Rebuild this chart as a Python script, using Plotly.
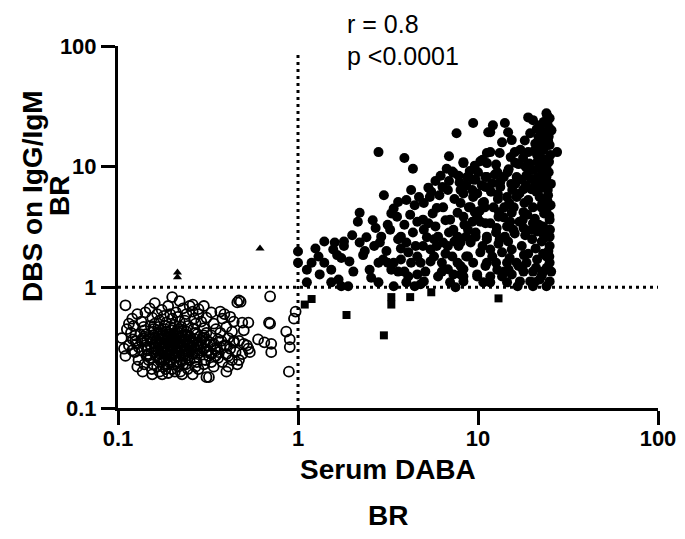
import plotly.graph_objects as go

# Serum DABA BR (x) vs DBS IgG/IgM BR (y)

# positive, both assays (filled circles)
filled_x = [
    2.8, 3.9, 4.35, 7.6, 9.4, 11.4, 11.2, 10.3, 8.3, 6.7,
    7.3, 5.8, 6.35, 6.8, 5.3, 5.4, 5.0, 4.25, 4.0, 4.45,
    3.0, 3.6, 3.4, 3.55, 2.2, 2.15, 2.6, 2.0, 2.4, 2.2,
    1.4, 1.6, 1.8, 1.57, 1.8, 1.3, 1.19, 1.12, 1.4, 1.53,
    1.74, 1.93, 2.03, 1.68, 1.53, 1.74, 1.9, 1.32, 1.12, 1.0,
    1.0, 2.9, 2.85, 3.15, 3.25, 2.8, 2.97, 2.5, 2.55, 2.8,
    3.6, 4.0, 3.73, 4.1, 4.5, 4.6, 4.25, 3.73, 3.4, 3.3,
    3.6, 3.9, 4.1, 4.0, 4.45, 4.8, 5.0, 5.1, 4.8, 4.95,
    5.45, 5.0, 5.3, 4.95, 5.8, 6.0, 6.4, 5.9, 5.7, 6.3,
    6.8, 6.9, 7.3, 7.7, 8.0, 7.2, 7.7, 8.0, 8.3, 8.6,
    9.1, 9.7, 8.8, 9.3, 9.9, 8.3, 7.7, 7.0, 8.9, 9.4,
    9.9, 9.3, 8.3, 10.6, 11.0, 11.2, 9.7, 6.4, 5.9, 7.0,
    7.5, 8.3, 9.9, 10.7, 11.2, 10.6, 11.2, 11.0, 8.0, 6.8,
    6.3, 4.35, 3.73, 3.15, 4.6, 3.4, 5.45, 6.0, 12.1, 11.7,
    14.1, 14.7, 13.6, 15.4, 16.0, 19.0, 20.2, 24.0, 25.0, 22.0,
    19.5, 22.6, 24.0, 27.5, 25.0, 23.0, 19.0, 21.3, 24.0, 22.0,
    24.0, 24.4, 23.0, 20.2, 18.6, 17.5, 16.4, 15.5, 13.3, 13.9,
    12.6, 11.7, 11.2, 10.6, 9.4, 11.0, 8.3, 7.2, 8.0, 9.1,
    10.8, 12.2, 14.5, 16.4, 19.0, 22.0, 20.2, 17.9, 15.4, 13.9,
    13.0, 11.7, 10.3, 24.0, 25.0, 23.0, 20.2, 17.9, 15.7, 14.1,
    12.6, 11.2, 9.7, 8.6, 7.8, 8.8, 10.3, 11.7, 13.6, 15.4,
    17.5, 20.0, 22.6, 25.0, 25.0, 24.0, 21.3, 18.6, 16.4, 14.5,
    12.6, 11.0, 9.4, 8.0, 7.3, 8.3, 9.9, 11.7, 13.6, 15.4,
    17.9, 20.2, 23.0, 25.5, 25.0, 22.0, 19.5, 17.1, 14.5, 11.7,
    25.0, 24.0, 20.2, 16.6, 24.2, 24.8, 24.5, 25.2, 24.0, 24.7,
    25.4, 24.3, 24.9, 25.1, 24.6, 24.1, 23.2, 22.8, 23.4, 22.9,
    23.1, 22.7, 23.3, 22.9, 23.0, 22.6, 21.2, 20.8, 21.4, 20.9,
    21.1, 20.7, 21.3, 20.9, 21.0, 20.6, 18.2, 17.8, 18.4, 17.9,
    18.1, 17.7, 18.3, 18.0, 17.6, 15.2, 14.8, 15.3, 14.9, 15.1,
    14.7, 15.0, 14.8, 13.2, 12.8, 13.3, 12.9, 13.1, 12.7, 13.0,
    12.8, 5.2, 6.6, 7.4, 8.6, 9.0, 10.0, 12.0, 6.1, 7.9,
    10.2, 3.1, 2.3, 1.65, 1.25, 5.6, 6.9, 16.8, 19.8, 22.3,
    16.0, 17.0, 18.8, 19.8, 21.8, 22.5, 24.5, 25.3, 23.8, 24.9,
    19.0, 16.8, 14.0, 12.0, 13.2, 14.5, 15.8, 17.0, 18.5, 19.8,
    21.5, 22.4, 23.6, 24.7, 25.6, 24.3, 21.7, 20.5, 17.2, 16.1,
    14.6, 12.4, 11.8, 10.5, 9.6, 8.7, 7.8, 6.9, 6.2, 5.5,
    4.7, 4.2, 3.3, 2.7, 2.35, 2.65, 3.9, 4.6, 5.7, 6.6,
    7.4, 8.4, 9.6, 10.9, 12.9, 14.0, 16.1, 19.3, 22.2, 24.8,
]
filled_y = [
    13.2, 11.8, 9.6, 18.9, 23.0, 19.3, 13.0, 11.1, 10.7, 9.6,
    8.9, 7.6, 6.8, 6.4, 6.7, 5.6, 5.0, 6.4, 5.3, 4.8,
    5.8, 5.1, 4.5, 3.85, 4.15, 3.5, 3.6, 2.7, 2.6, 2.35,
    2.4, 2.35, 2.4, 2.06, 2.2, 1.8, 1.6, 1.4, 1.6, 1.4,
    1.75, 1.64, 1.35, 1.16, 1.1, 1.02, 1.02, 1.28, 1.1, 1.98,
    1.6, 2.63, 2.35, 3.3, 3.0, 1.6, 1.7, 1.4, 1.2, 1.1,
    2.5, 2.35, 2.1, 1.95, 2.2, 1.8, 1.6, 1.7, 1.6, 1.4,
    1.35, 1.35, 1.23, 1.1, 1.02, 1.06, 1.12, 1.35, 1.6, 2.2,
    2.06, 3.0, 3.4, 3.64, 3.2, 2.63, 2.35, 2.2, 1.8, 1.6,
    2.2, 2.85, 3.0, 2.63, 2.35, 1.8, 1.6, 1.28, 1.41, 1.8,
    2.35, 2.63, 3.0, 3.5, 3.85, 3.85, 4.15, 3.64, 4.6, 5.6,
    6.0, 6.4, 6.0, 5.0, 6.8, 8.2, 7.8, 4.6, 4.55, 1.1,
    1.0, 1.12, 1.23, 1.1, 1.6, 2.2, 2.63, 3.4, 5.0, 1.41,
    1.35, 2.85, 2.63, 1.6, 1.28, 1.02, 1.64, 1.23, 22.0, 19.3,
    23.0, 19.3, 15.9, 16.6, 13.2, 25.6, 24.3, 27.7, 25.2, 22.0,
    18.9, 16.6, 18.9, 13.2, 15.1, 13.7, 13.2, 12.5, 11.4, 9.7,
    8.2, 6.4, 6.8, 9.4, 8.5, 7.8, 8.2, 6.4, 6.8, 8.2,
    10.4, 13.2, 10.7, 11.4, 7.8, 8.2, 10.9, 9.1, 6.4, 4.6,
    5.1, 4.6, 5.6, 5.6, 5.3, 5.6, 4.6, 4.2, 4.15, 3.8,
    3.85, 3.4, 3.5, 4.4, 3.64, 3.2, 3.4, 3.1, 3.0, 2.63,
    2.85, 2.5, 2.85, 2.63, 2.2, 1.8, 1.95, 2.06, 1.95, 2.06,
    2.2, 2.5, 2.4, 2.2, 2.63, 1.8, 1.7, 1.6, 1.6, 1.6,
    1.6, 1.5, 1.6, 1.5, 1.28, 1.23, 1.28, 1.23, 1.23, 1.28,
    1.35, 1.35, 1.35, 1.35, 1.6, 1.16, 1.12, 1.12, 1.1, 1.1,
    1.12, 1.02, 1.02, 1.02, 26.5, 21.0, 16.5, 12.5, 10.0, 9.0,
    7.2, 5.2, 3.9, 3.0, 2.0, 1.45, 23.5, 19.5, 10.8, 8.8,
    7.5, 4.9, 4.1, 2.8, 1.9, 1.25, 20.5, 15.5, 11.0, 7.2,
    6.2, 3.7, 2.9, 2.1, 1.45, 1.1, 16.5, 11.8, 10.0, 6.5,
    5.0, 3.6, 2.7, 1.85, 1.45, 12.0, 9.5, 7.2, 5.0, 3.5,
    2.4, 1.75, 1.4, 13.0, 9.0, 7.5, 5.4, 4.2, 3.1, 2.3,
    1.4, 2.6, 3.6, 5.4, 7.0, 9.2, 9.0, 7.3, 5.8, 7.4,
    4.3, 2.0, 1.85, 1.85, 2.1, 4.1, 12.2, 10.5, 7.9, 14.6,
    2.8, 3.5, 4.0, 3.0, 3.3, 4.6, 5.8, 4.8, 2.6, 1.8,
    1.9, 1.5, 1.35, 1.8, 2.5, 3.2, 4.6, 6.0, 7.0, 6.5,
    8.2, 11.8, 14.7, 17.8, 20.0, 23.0, 17.5, 13.5, 13.8, 10.8,
    9.0, 8.6, 6.2, 7.0, 10.2, 8.2, 8.4, 7.6, 8.4, 6.2,
    5.6, 4.0, 4.1, 3.1, 2.0, 2.2, 3.3, 3.5, 2.5, 1.9,
    2.4, 3.3, 4.2, 4.6, 5.9, 4.6, 7.2, 10.6, 6.6, 11.0,
]

# negative, both assays (open circles)
open_x = [
    0.105, 0.108, 0.11, 0.112, 0.115, 0.11, 0.12, 0.122, 0.125, 0.127,
    0.124, 0.13, 0.128, 0.121, 0.135, 0.14, 0.138, 0.142, 0.136, 0.144,
    0.14, 0.137, 0.145, 0.143, 0.15, 0.155, 0.152, 0.158, 0.15, 0.156,
    0.153, 0.159, 0.151, 0.157, 0.154, 0.16, 0.16, 0.155, 0.165, 0.17,
    0.168, 0.173, 0.166, 0.171, 0.175, 0.167, 0.172, 0.169, 0.174, 0.165,
    0.17, 0.176, 0.168, 0.174, 0.18, 0.185, 0.182, 0.188, 0.181, 0.186,
    0.19, 0.183, 0.187, 0.18, 0.189, 0.184, 0.19, 0.182, 0.188, 0.185,
    0.2, 0.195, 0.2, 0.205, 0.198, 0.203, 0.208, 0.196, 0.201, 0.206,
    0.2, 0.21, 0.197, 0.204, 0.2, 0.207, 0.199, 0.209, 0.21, 0.22,
    0.215, 0.22, 0.225, 0.218, 0.223, 0.228, 0.216, 0.221, 0.226, 0.219,
    0.224, 0.23, 0.217, 0.222, 0.227, 0.23, 0.22, 0.25, 0.24, 0.235,
    0.245, 0.24, 0.237, 0.248, 0.242, 0.236, 0.246, 0.24, 0.25, 0.238,
    0.244, 0.249, 0.243, 0.26, 0.265, 0.27, 0.262, 0.275, 0.268, 0.28,
    0.263, 0.272, 0.278, 0.266, 0.274, 0.26, 0.28, 0.28, 0.28, 0.3,
    0.29, 0.3, 0.31, 0.295, 0.305, 0.315, 0.3, 0.31, 0.32, 0.305,
    0.31, 0.32, 0.33, 0.3, 0.34, 0.35, 0.33, 0.36, 0.34, 0.37,
    0.35, 0.33, 0.36, 0.38, 0.34, 0.37, 0.38, 0.35, 0.37, 0.39,
    0.42, 0.4, 0.43, 0.41, 0.44, 0.4, 0.42, 0.45, 0.41, 0.43,
    0.41, 0.4, 0.44, 0.47, 0.46, 0.48, 0.49, 0.53, 0.5, 0.47,
    0.5, 0.53, 0.54, 0.47, 0.46, 0.49, 0.52, 0.6, 0.65, 0.71,
    0.71, 0.7, 0.69, 0.7, 0.86, 0.9, 0.9, 0.89, 0.97, 0.95,
    0.145, 0.16, 0.175, 0.19, 0.205, 0.22, 0.235, 0.25, 0.17, 0.195,
    0.13, 0.148, 0.163, 0.178, 0.193, 0.212, 0.228, 0.255, 0.27, 0.29,
    0.118, 0.135, 0.157, 0.183, 0.2, 0.215, 0.24, 0.26, 0.285, 0.31,
    0.125, 0.133, 0.139, 0.147, 0.152, 0.158, 0.162, 0.164, 0.167, 0.171,
    0.177, 0.179, 0.181, 0.184, 0.187, 0.191, 0.193, 0.196, 0.198, 0.202,
    0.204, 0.207, 0.211, 0.213, 0.216, 0.219, 0.223, 0.226, 0.229, 0.232,
    0.236, 0.24, 0.245, 0.25, 0.255, 0.26, 0.265, 0.27, 0.275, 0.285,
    0.29, 0.3, 0.315, 0.325, 0.33, 0.345, 0.36, 0.375, 0.39, 0.4,
    0.115, 0.12, 0.128, 0.142, 0.175, 0.19, 0.21, 0.26, 0.31, 0.44,
]
open_y = [
    0.38, 0.31, 0.27, 0.45, 0.33, 0.71, 0.55, 0.48, 0.40, 0.34,
    0.29, 0.25, 0.22, 0.37, 0.52, 0.44, 0.38, 0.33, 0.30, 0.27,
    0.23, 0.20, 0.36, 0.41, 0.67, 0.56, 0.48, 0.43, 0.39, 0.35,
    0.32, 0.29, 0.26, 0.23, 0.21, 0.74, 0.50, 0.19, 0.60, 0.53,
    0.47, 0.42, 0.38, 0.35, 0.32, 0.30, 0.28, 0.26, 0.24, 0.22,
    0.20, 0.19, 0.33, 0.37, 0.58, 0.51, 0.45, 0.41, 0.37, 0.34,
    0.31, 0.29, 0.27, 0.25, 0.23, 0.21, 0.195, 0.32, 0.36, 0.43,
    0.83, 0.60, 0.55, 0.49, 0.44, 0.40, 0.37, 0.35, 0.33, 0.31,
    0.29, 0.27, 0.25, 0.23, 0.21, 0.20, 0.38, 0.42, 0.30, 0.77,
    0.57, 0.52, 0.47, 0.42, 0.38, 0.35, 0.33, 0.31, 0.29, 0.27,
    0.25, 0.23, 0.22, 0.20, 0.19, 0.67, 0.36, 0.70, 0.60, 0.53,
    0.48, 0.43, 0.39, 0.36, 0.34, 0.31, 0.29, 0.27, 0.25, 0.23,
    0.21, 0.33, 0.40, 0.63, 0.55, 0.50, 0.45, 0.41, 0.37, 0.34,
    0.32, 0.30, 0.28, 0.26, 0.24, 0.19, 0.21, 0.66, 0.60, 0.70,
    0.52, 0.46, 0.42, 0.38, 0.35, 0.33, 0.31, 0.29, 0.27, 0.25,
    0.18, 0.18, 0.62, 0.23, 0.50, 0.45, 0.40, 0.37, 0.34, 0.32,
    0.30, 0.28, 0.26, 0.24, 0.22, 0.63, 0.55, 0.27, 0.42, 0.60,
    0.57, 0.47, 0.43, 0.38, 0.35, 0.33, 0.31, 0.29, 0.27, 0.25,
    0.22, 0.20, 0.36, 0.78, 0.75, 0.76, 0.51, 0.51, 0.44, 0.36,
    0.34, 0.31, 0.29, 0.25, 0.23, 0.28, 0.33, 0.37, 0.35, 0.34,
    0.29, 0.50, 0.51, 0.84, 0.43, 0.37, 0.32, 0.20, 0.63, 0.55,
    0.31, 0.34, 0.29, 0.39, 0.26, 0.32, 0.28, 0.35, 0.41, 0.47,
    0.32, 0.25, 0.27, 0.22, 0.24, 0.24, 0.43, 0.30, 0.22, 0.32,
    0.42, 0.36, 0.40, 0.48, 0.35, 0.45, 0.37, 0.28, 0.39, 0.37,
    0.36, 0.41, 0.47, 0.28, 0.37, 0.45, 0.31, 0.36, 0.41, 0.25,
    0.29, 0.33, 0.39, 0.26, 0.30, 0.35, 0.28, 0.41, 0.32, 0.36,
    0.28, 0.34, 0.39, 0.29, 0.35, 0.24, 0.31, 0.40, 0.27, 0.33,
    0.36, 0.30, 0.26, 0.39, 0.33, 0.36, 0.29, 0.42, 0.33, 0.30,
    0.36, 0.40, 0.30, 0.35, 0.24, 0.31, 0.29, 0.36, 0.33, 0.28,
    0.50, 0.30, 0.60, 0.62, 0.65, 0.70, 0.62, 0.72, 0.56, 0.52,
]

# serum positive, DBS negative (squares)
square_x = [1.09, 1.19, 1.86, 3.0, 3.3, 3.3, 4.2, 5.5, 13.0]
square_y = [0.72, 0.80, 0.59, 0.40, 0.83, 0.72, 0.83, 0.91, 0.81]

# serum negative, DBS positive (triangles)
tri_x = [0.214, 0.214, 0.615]
tri_y = [1.33, 1.21, 2.1]

cutoff = 1
axis_min, axis_max = 0.1, 100
vline_top = 88

fig = go.Figure()

dot_line = dict(color="black", width=3, dash="3px,4px")
fig.add_trace(go.Scatter(x=[axis_min, axis_max], y=[cutoff, cutoff], mode="lines", line=dot_line))
fig.add_trace(go.Scatter(x=[cutoff, cutoff], y=[axis_min, vline_top], mode="lines", line=dot_line))

fig.add_trace(go.Scatter(
    x=open_x, y=open_y, mode="markers",
    marker=dict(symbol="circle-open", size=10, color="black", line=dict(width=1.8)),
))
fig.add_trace(go.Scatter(
    x=filled_x, y=filled_y, mode="markers",
    marker=dict(symbol="circle", size=10, color="black"),
))
fig.add_trace(go.Scatter(
    x=square_x, y=square_y, mode="markers",
    marker=dict(symbol="square", size=8, color="black"),
))
fig.add_trace(go.Scatter(
    x=tri_x, y=tri_y, mode="markers",
    marker=dict(symbol="triangle-up", size=8, color="black"),
))

tick_font = dict(family="Liberation Sans, Arial", size=22, color="black", weight="bold")
axis_style = dict(
    type="log", range=[-1, 2], showgrid=False, zeroline=False,
    showline=True, linecolor="black", linewidth=3,
    ticks="outside", ticklen=14, tickwidth=3, tickcolor="black",
    tickvals=[0.1, 1, 10, 100], ticktext=["0.1", "1", "10", "100"],
    tickfont=tick_font,
)
fig.update_xaxes(**axis_style, ticklabelstandoff=-5)
fig.update_yaxes(**axis_style)

title_font = dict(family="Liberation Sans, Arial", size=28, color="black", weight="bold")
text_font = dict(family="Liberation Sans, Arial", size=25, color="black")


def label(text, x, y, font, angle=0, anchor="center"):
    fig.add_annotation(
        text=text, xref="paper", yref="paper", x=x, y=y,
        xanchor=anchor, yanchor="middle", showarrow=False,
        textangle=angle, font=font,
    )


label("Serum DABA", 0.5, -0.171, title_font)
label("BR", 0.5, -0.298, title_font)
label("DBS on IgG/IgM", -0.158, 0.585, title_font, angle=-90)
label("BR", -0.108, 0.585, title_font, angle=-90)
label("r = 0.8", 0.42, 1.062, text_font, anchor="left")
label("p <0.0001", 0.42, 0.973, text_font, anchor="left")

fig.update_layout(
    width=685, height=539,
    margin=dict(l=110, r=35, t=38, b=139),
    paper_bgcolor="white", plot_bgcolor="white",
    showlegend=False,
)

fig.write_html("out.html")
